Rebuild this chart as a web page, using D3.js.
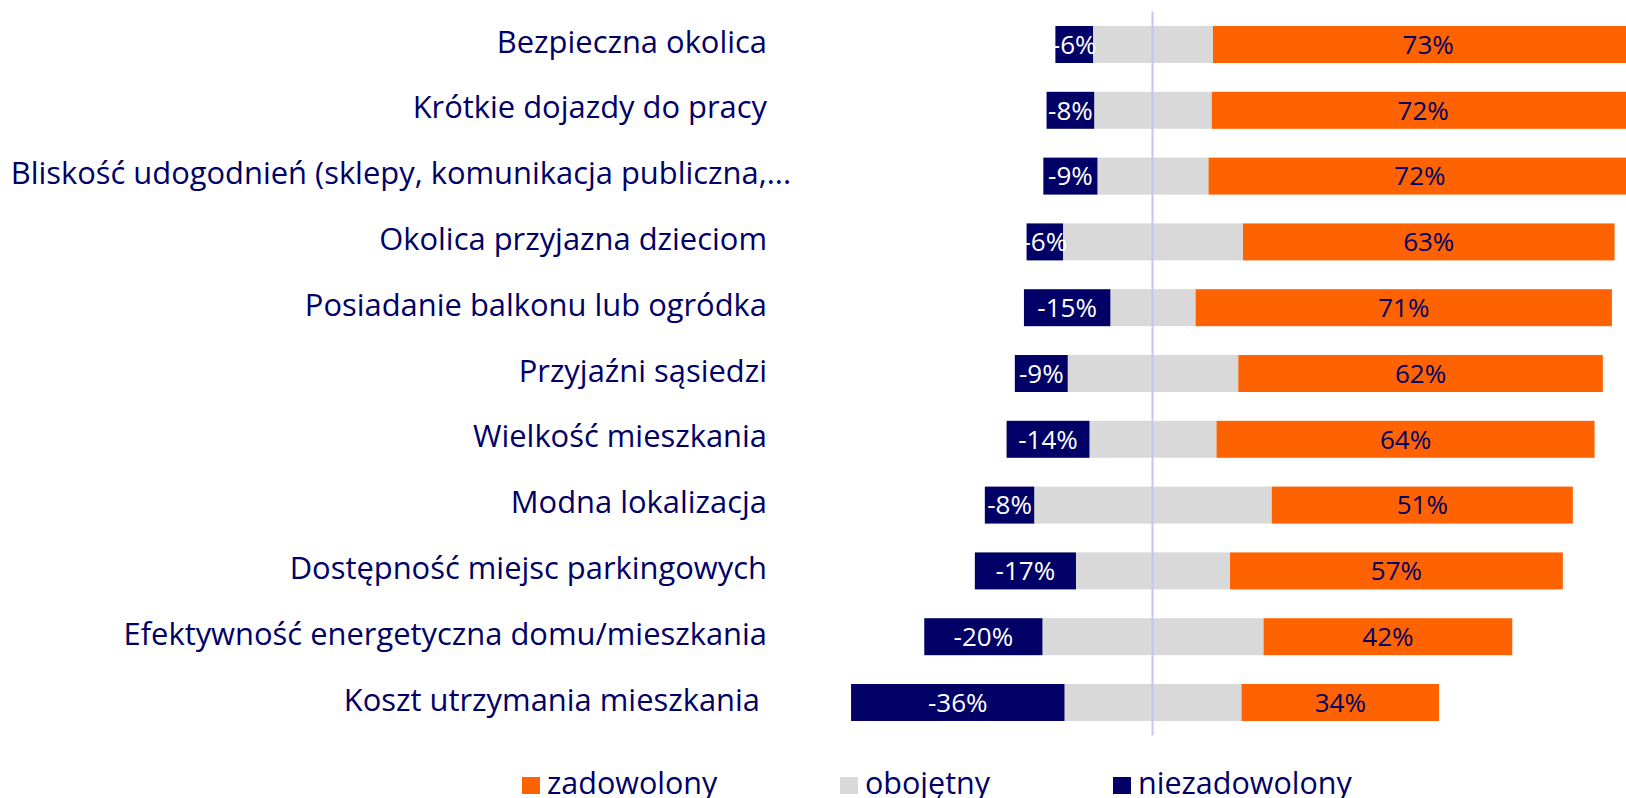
<!DOCTYPE html>
<html>
<head>
<meta charset="utf-8">
<script src="https://cdn.jsdelivr.net/npm/d3@7/dist/d3.min.js"></script>
<style>
  html, body { margin: 0; padding: 0; background: #fff; }
  svg { display: block; }
  text { font-family: "Open Sans", "Noto Sans", sans-serif; }
</style>
</head>
<body>
<svg id="chart" width="1626" height="798"></svg>
<script>
// ---- data ----
const categories = [
  "Bezpieczna okolica",
  "Krótkie dojazdy do pracy",
  "Bliskość udogodnień (sklepy, komunikacja publiczna,...",
  "Okolica przyjazna dzieciom",
  "Posiadanie balkonu lub ogródka",
  "Przyjaźni sąsiedzi",
  "Wielkość mieszkania",
  "Modna lokalizacja",
  "Dostępność miejsc parkingowych",
  "Efektywność energetyczna domu/mieszkania",
  "Koszt utrzymania mieszkania"
];
const niezadowolony = [6.4, 8.1, 9.2, 6.2, 14.7, 9.0, 14.1, 8.4, 17.2, 20.1, 36.3];
const obojetny      = [20.4, 20.0, 18.9, 30.6, 14.5, 29.0, 21.6, 40.4, 26.2, 37.6, 30.1];
const zadowolony    = [73.2, 71.9, 71.9, 63.2, 70.8, 62.0, 64.3, 51.2, 56.6, 42.3, 33.6];
const seriesNames = ["zadowolony", "obojętny", "niezadowolony"];

// ---- styles ----
const COL_SAT = "#FF6200", COL_NEU = "#D9D9D9", COL_DIS = "#000066", COL_TXT = "#000066";

const svg = d3.select("#chart");

const x = d3.scaleLinear().domain([-60, 80]).range([800.2, 1623.4]);
const y = d3.scaleBand().domain(categories).range([11.6, 735.4])
  .paddingInner(0.438).paddingOuter(0.219);

const rows = categories.map((c, i) => ({
  cat: c, dis: niezadowolony[i], neu: obojetny[i], sat: zadowolony[i]
}));

const g = svg.append("g");

// neutral (split around zero)
g.selectAll("rect.neu").data(rows).join("rect")
  .attr("class", "neu")
  .attr("x", d => x(-d.neu / 2))
  .attr("width", d => x(d.neu / 2) - x(-d.neu / 2))
  .attr("y", d => y(d.cat)).attr("height", y.bandwidth())
  .attr("fill", COL_NEU);

// dissatisfied
g.selectAll("rect.dis").data(rows).join("rect")
  .attr("class", "dis")
  .attr("x", d => x(-d.neu / 2 - d.dis))
  .attr("width", d => x(-d.neu / 2) - x(-d.neu / 2 - d.dis))
  .attr("y", d => y(d.cat)).attr("height", y.bandwidth())
  .attr("fill", COL_DIS);

// satisfied
g.selectAll("rect.sat").data(rows).join("rect")
  .attr("class", "sat")
  .attr("x", d => x(d.neu / 2))
  .attr("width", d => x(d.neu / 2 + d.sat) - x(d.neu / 2))
  .attr("y", d => y(d.cat)).attr("height", y.bandwidth())
  .attr("fill", COL_SAT);

// zero line
svg.append("line")
  .attr("x1", x(0) - 0.5).attr("x2", x(0) - 0.5)
  .attr("y1", y.range()[0]).attr("y2", y.range()[1])
  .attr("stroke", "#C4C4F6").attr("stroke-width", 2);

// data labels
const mid = d => y(d.cat) + y.bandwidth() / 2;
g.selectAll("text.ldis").data(rows).join("text")
  .attr("class", "ldis")
  .attr("x", d => (x(-d.neu / 2 - d.dis) + x(-d.neu / 2)) / 2)
  .attr("y", d => mid(d) + 9.3)
  .attr("text-anchor", "middle")
  .attr("font-size", 26).attr("fill", "#fff")
  .text(d => "-" + Math.round(d.dis) + "%");

g.selectAll("text.lsat").data(rows).join("text")
  .attr("class", "lsat")
  .attr("x", d => (x(d.neu / 2) + x(d.neu / 2 + d.sat)) / 2)
  .attr("y", d => mid(d) + 9.3)
  .attr("text-anchor", "middle")
  .attr("font-size", 26).attr("fill", COL_TXT)
  .text(d => Math.round(d.sat) + "%");

// category labels
const labelEnd = i => (i === 2 ? 791 : i === 10 ? 760 : 767);
svg.selectAll("text.cat").data(categories).join("text")
  .attr("class", "cat")
  .attr("x", (d, i) => labelEnd(i))
  .attr("y", d => y(d) + y.bandwidth() / 2 + 8)
  .attr("text-anchor", "end")
  .attr("font-size", 30.9).attr("fill", COL_TXT)
  .text(d => d);

// legend
const legendColors = [COL_SAT, COL_NEU, COL_DIS];
const legendX = [522, 840, 1113];
const lg = svg.selectAll("g.leg").data(seriesNames).join("g")
  .attr("class", "leg")
  .attr("transform", (d, i) => `translate(${legendX[i]},0)`);
lg.append("rect").attr("x", 0).attr("y", 777).attr("width", 18).attr("height", 17)
  .attr("fill", (d, i) => legendColors[i]);
lg.append("text").attr("x", 25).attr("y", 794)
  .attr("font-size", 30.5).attr("fill", COL_TXT)
  .text(d => d);
</script>
</body>
</html>
